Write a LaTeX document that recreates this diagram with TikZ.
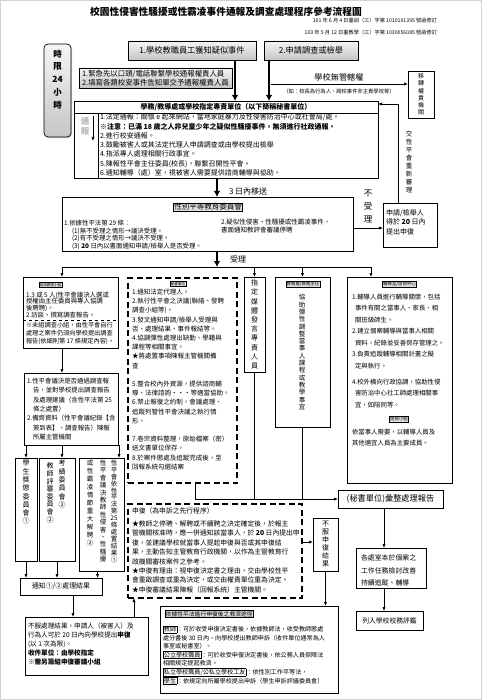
\documentclass[tikz,border=0pt]{standalone}
\usepackage{fontspec}
\setmainfont{Noto Sans CJK TC}
\usetikzlibrary{arrows.meta,shadows,positioning}
\newcommand\fsz[2]{\fontsize{#1}{#2}\selectfont}
\newcommand\kwbox[1]{{\setlength\fboxsep{0.5pt}\setlength\fboxrule{0.4pt}\fbox{#1}}}

\begin{document}
\begin{tikzpicture}[x=1pt,y=-1pt,
  every node/.style={inner sep=0pt,outer sep=0pt},
  cellbox/.style={draw,line width=0.7pt,anchor=north west},
  graybox/.style={cellbox,top color=gray!8,bottom color=gray!45,drop shadow={shadow xshift=1.2pt,shadow yshift=-1.2pt,opacity=0.35}},
  dashbox/.style={cellbox,line width=1.1pt,dash pattern=on 6pt off 3.5pt},
  tag/.style={draw,line width=0.4pt,fill=gray!25,inner sep=0.7pt},
  txt/.style={anchor=west,align=left},
  vert/.style={align=center},
  arr/.style={line width=0.7pt,-{Latex[length=4pt,width=3.2pt]}},
  fat/.style={line width=2.2pt,-{Latex[length=6pt,width=6.5pt]}}]
\useasboundingbox (0,0) rectangle (482,700);
\draw[gray!35] (0.5,0.5) rectangle (481.5,699.5);
% title
\node[font=\fsz{9.7}{10}\bfseries] (title) at (226,12) {校園性侵害性騷擾或性霸凌事件通報及調查處理程序參考流程圖};
\node[anchor=east,font=\fsz{5.2}{6}] (rev1) at (437,21) {101 年 6 月 4 日臺訓（三）字第 1010101395 號函修訂};
\node[anchor=east,font=\fsz{5.2}{6}] (rev2) at (437,33) {103 年 5 月 12 日臺教學（三）字第 1030056085 號函修訂};
% top row
\node[graybox,rounded corners=4pt,minimum width=27,minimum height=93] (limit) at (44,44) {};
\node[vert,font=\fsz{8.5}{12.8}\bfseries] (limittxt) at (57.5,79.5) {時\\限\\24\\小\\時};
\node[graybox,minimum width=128,minimum height=19,font=\fsz{8.2}{9}] (report) at (128,41) {1.學校教職員工獲知疑似事件};
\node[graybox,minimum width=94,minimum height=19,font=\fsz{8.2}{9}] (apply) at (264,41) {2.申請調查或檢舉};
\node[graybox,minimum width=153,minimum height=20,font=\fsz{7.4}{8.6},align=left] (urgent) at (79,68) {1.緊急先以口頭/電話聯繫學校通報權責人員\\2.填寫各類校安事件告知單交予通報權責人員};
\node[cellbox,vert,minimum width=26,minimum height=47,font=\fsz{6}{7.2}] (transfer) at (408,71) {移\\轉\\權\\責\\機\\關};
\node[font=\fsz{8.2}{9}] (nojur) at (339,77) {學校無管轄權};
\node[font=\fsz{5.3}{6}] (nojurnote) at (339,91) {（如：校長為行為人、跨校事件非主責學校等）};
% secretariat
\node[cellbox,minimum width=304,minimum height=77] (sec) at (74,101) {};
\node[font=\fsz{7}{8}\bfseries] (sechead) at (226,107) {學務/教導處或學校指定專責單位（以下簡稱秘書單位）};
\node[vert,font=\fsz{8.5}{10}\bfseries,text=gray!55] (notifytxt) at (85,126) {通\\報};
\node[txt,font=\fsz{7}{9.3}] (secsteps) at (100,145) {1.法定通報：關懷 e 起來網站，當地家庭暴力及性侵害防治中心或社會局/處。\\\textbf{※注意：已滿 18 歲之人非兒童少年之疑似性騷擾事件，無須進行社政通報。}\\2.進行校安通報。\\3.鼓勵被害人或其法定代理人申請調查或由學校提出檢舉\\4.指派專人處理相關行政事宜。\\5.陳報性平會主任委員(校長)，聯繫召開性平會。\\6.通知輔導（處）室，視被害人需要提供諮商輔導與協助。};
\node[vert,font=\fsz{6.5}{8.1}] (rehear) at (409,162) {交\\性\\平\\會\\重\\新\\審\\理};
\node[anchor=west,font=\fsz{8}{9}] (within3) at (229,191) {3 日內移送};
% committee
\node[cellbox,minimum width=291,minimum height=54] (committee) at (62,197) {};
\node[tag,font=\fsz{7.5}{8}] (committeetag) at (208,207) {性別平等教育委員會};
\node[txt,font=\fsz{6.4}{7.6}] (acceptrule) at (64,235) {1.依據性平法第 29 條：\\\hspace*{8pt}(1)無不受理之情形→議決受理。\\\hspace*{8pt}(2)有不受理之情形→議決不受理。\\\hspace*{8pt}(3) \textbf{20} 日內以書面通知申請/檢舉人是否受理。};
\node[txt,font=\fsz{6.5}{8}] (suspend) at (221,226) {2.疑似性侵害、性騷擾或性霸凌事件，\\書面通知教評會審議停聘};
\node[vert,font=\fsz{8.5}{13}] (notaccept) at (368,206) {不\\受\\理};
\node[cellbox,minimum width=54,minimum height=44] (appeal) at (383,203) {};
\node[txt,font=\fsz{7}{9.5}] (appealtxt) at (386,222) {申請/檢舉人\\得於 \textbf{20} 日內\\提出申復};
\node[font=\fsz{8}{9}] (accepted) at (238,259) {受理};
% investigation
\node[cellbox,minimum width=95,minimum height=71] (team) at (23,277) {};
\node[tag,font=\fsz{3.6}{4}] (teamtag) at (50.5,285) {組成調查小組};
\node[txt,font=\fsz{6.4}{6.9}] (teamtxt) at (26,305) {1.3 或 5 人(性平會議決人選或\\授權由主任委員與專人協調\\後聘聘)。\\2.訪談、撰寫調查報告。};
\node[txt,font=\fsz{6.2}{7.7}] (teamnote) at (26,333.5) {※未組調查小組，由性平會自行\\處理之案件仍須向學校提出調查\\報告(依細則第 17 條規定內容)。};
\node[cellbox,minimum width=94,minimum height=72] (decide) at (24,373) {};
\node[txt,font=\fsz{6.4}{9.3}] (decidetxt) at (27,409) {1.性平會議決是否通過調查報\\\hspace*{6pt}告，並對學校提出調查報告\\\hspace*{6pt}及處理建議（含性平法第 25\\\hspace*{6pt}條之處置）\\2.備齊資料（性平會議紀錄【含\\\hspace*{6pt}簽到表】、調查報告）陳報\\\hspace*{6pt}所屬主管機關};
\node[cellbox,minimum width=22,minimum height=103] (c1) at (15,458) {};
\node[vert,font=\fsz{7}{8.3},anchor=north] (c1txt) at ([yshift=-2pt]c1.north) {學\\生\\獎\\懲\\委\\員\\會\\①};
\node[cellbox,minimum width=36,minimum height=103] (c2) at (39,458) {};
\node[vert,font=\fsz{7}{8.3},anchor=north] (c2right) at ([xshift=5pt,yshift=-2pt]c2.north) {考\\績\\委\\員\\會\\②};
\node[vert,font=\fsz{7}{7.6},anchor=north] (c2left) at ([xshift=-7pt,yshift=-5pt]c2.north) {教\\師\\評\\審\\委\\員\\會\\②};
\node[cellbox,minimum width=45,minimum height=113] (c3) at (79,458) {};
\node[vert,font=\fsz{6.5}{6.9},anchor=north] (c3a) at ([xshift=12.5pt,yshift=-2pt]c3.north) {性\\平\\會\\依\\性\\平\\法\\第\\25\\條\\處\\置\\結\\果\\①};
\node[vert,font=\fsz{6.5}{7.4},anchor=north] (c3b) at ([xshift=1.5pt,yshift=-2pt]c3.north) {性\\平\\會\\議\\決\\教\\師\\性\\侵\\害\\、\\性\\騷\\擾};
\node[vert,font=\fsz{6.5}{8},anchor=north] (c3c) at ([xshift=-11.5pt,yshift=-2pt]c3.north) {或\\性\\霸\\凌\\情\\節\\重\\大\\解\\聘\\②};
\node[cellbox,minimum width=82,minimum height=17,font=\fsz{6.9}{8}] (inform) at (20,578) {通知①/②處理結果};
\node[cellbox,minimum width=123,minimum height=58] (objection) at (25,617) {};
\node[txt,font=\fsz{6.6}{9}] (objtxt) at (28,644) {不服處理結果，申請人（被害人）及\\行為人可於 20 日內向學校提出\textbf{申復}\\(以 1 次為限)。\\\textbf{收件單位：由學校指定}\\\textbf{※需另籌組申復審議小組}};
% secretariat duties
\node[dashbox,minimum width=109,minimum height=205] (duty) at (128,278) {};
\node[tag,font=\fsz{3.6}{4}] (dutytag) at (178,284) {秘書單位};
\node[txt,font=\fsz{6.5}{9.2}] (dutytxt) at (132,379.4) {1.通知法定代理人。\\2.執行性平會之決議(聯絡、發聘\\調查小組等)。\\3.發文通知申請/檢舉人受理與\\否、處理結果、事件報結等。\\4.協調彈性處理出缺勤、學籍與\\課程等相關事宜。\\★將處置事項陳報主管機關備\\查\\[9.2pt]5.整合校內外資源，提供諮商輔\\導、法律諮詢・・・等適當協助。\\6.禁止報復之約制，會議處理、\\追蹤列管性平會決議之執行情\\形。\\[9.2pt]7.卷宗資料整理，原始檔案（密）\\送文書單位保存。\\8.於案件懲處及追蹤完成後，至\\回報系統勾選結案};
\node[cellbox,vert,minimum width=21,minimum height=95,font=\fsz{7}{9.2}] (media) at (244,277) {指\\定\\媒\\體\\發\\言\\專\\責\\人\\員};
\node[cellbox,minimum width=55,minimum height=150] (academic) at (275,277) {};
\node[tag,font=\fsz{4.4}{5}] (academictag) at (303,284) {教務處/教務主任};
\node[vert,font=\fsz{6.5}{7.3}] (academictxt) at (302,352) {協\\助\\彈\\性\\調\\整\\當\\事\\人\\課\\程\\或\\教\\學\\事\\宜};
\node[cellbox,minimum width=105,minimum height=206] (counsel) at (347,277) {};
\node[tag,font=\fsz{4.4}{5}] (counseltag) at (399.5,284) {輔導室/諮商中心};
\node[txt,font=\fsz{6.4}{11.5}] (counseltxt) at (352,351) {1.輔導人員進行輔導關懷，包括\\\hspace*{3pt}事件有關之當事人、家長、相\\\hspace*{3pt}關班級師生。\\2.建立個案輔導與當事人相關\\\hspace*{3pt}資料，紀錄並妥善保存管理之。\\3.負責追蹤輔導相關計畫之擬\\\hspace*{3pt}定與執行。\\[4.5pt]4.校外橫向行政協調，協助性侵\\\hspace*{3pt}害防治中心社工師處理相關事\\\hspace*{3pt}宜，如陪同等。};
\node[tag,font=\fsz{4.4}{5}] (consulttag) at (399,419) {諮商小組};
\node[txt,font=\fsz{6.4}{11}] (consulttxt) at (352,437.5) {依當事人需要，以輔導人員及\\其他適宜人員為主要成員。};
\node[cellbox,minimum width=105,minimum height=18,font=\fsz{8.2}{9}] (summary) at (338,490) {(秘書單位)彙整處理報告};
\node[cellbox,minimum width=70,minimum height=40] (follow) at (356,548) {};
\node[txt,font=\fsz{6.9}{12.5}] (followtxt) at (361,570.5) {各處室本於個案之\\工作任務檢討改善\\持續追蹤、輔導};
\node[cellbox,minimum width=67,minimum height=19,font=\fsz{6.8}{8}] (evaluate) at (356,611) {列入學校校務評鑑};
% review
\node[dashbox,minimum width=174,minimum height=94] (review) at (128,504) {};
\node[txt,font=\fsz{6.8}{9.4}] (reviewtxt) at (132,550.4) {申復（為申訴之先行程序）\\[3.5pt]★教師之停聘、解聘或不續聘之決定確定後，於報主\\管機關核准時，應一併通知該當事人，於 \textbf{20} 日內提出申\\復，並建議學校就當事人提起申復與否或其申復結\\果，主動告知主管教育行政機關，以作為主管教育行\\政機關審核案件之參考。\\★申復有理由：視申復決定書之理由，交由學校性平\\會重啟調查或重為決定，或交由權責單位重為決定。\\★申復審議結果陳報（回報系統）主管機關。};
\node[cellbox,vert,minimum width=25,minimum height=53,font=\fsz{7}{8}] (reject) at (313,518) {不\\服\\申\\復\\結\\果};
\node[cellbox,minimum width=178,minimum height=87] (remedy) at (160,606) {};
\node[tag,font=\fsz{5.8}{6.5},anchor=west] (remedytag) at (165,614) {依據性平法進行申復後之救濟途徑};
\node[txt,font=\fsz{6.1}{8.6}] (remedytxt) at (163,655) {\kwbox{教師}：可於收受申復決定書後，依據教師法，收受教師懲處\\處分書後 30 日內，向學校提出教師申訴（收件單位通常為人\\事室或秘書室）。\\\kwbox{公立學校職員}：可於收受申復決定書後，依公務人員保障法\\相關規定提起救濟。\\\kwbox{私立學校職員/公私立學校工友}：依性別工作平等法，\\\kwbox{學生}：依規定向所屬學校提出申訴（學生申訴評議委員會）};
% connectors
\coordinate (fork) at (271,84);
\coordinate (spine) at (217,0);
\coordinate (busL) at (62,267);
\coordinate (busR) at (371,267);
\coordinate (ntop) at (93,116);
\coordinate (nbot) at (93,141);
\draw[line width=0.7pt] ([yshift=-12pt]sec.north west) -- ([yshift=-12pt]sec.north east);
\draw[line width=0.7pt] ([xshift=24pt,yshift=-12pt]sec.north west) -- ([xshift=24pt]sec.south west);
\draw[arr] (ntop) -- (nbot);
\draw[fat] ([xshift=-21pt]report.south east) -- ([xshift=-21pt]report.south east |- sec.north);
\draw[fat] ([xshift=5pt]apply.south west) -- ([xshift=5pt]apply.south west |- sec.north);
\draw[arr] (fork) -- (fork -| transfer.west);
\draw[arr] ([xshift=15pt]appeal.north west) |- ([yshift=-3pt]sec.north east);
\draw[fat] (sec.south -| spine) -- (committee.north -| spine);
\draw[arr] ([yshift=-4pt]committee.east) -- ([yshift=-4pt]committee.east -| appeal.west);
\draw[fat] (committee.south -| spine) -- (busL -| spine);
\draw[line width=0.7pt] (busL) -- (busR);
\draw[arr] (busL) -- (busL |- team.north);
\draw[arr] (media.north |- busL) -- (media.north);
\draw[arr] (academic.north |- busL) -- (academic.north);
\draw[arr] (busR) -- (busR |- counsel.north);
\draw[line width=0.6pt,dashed] ([yshift=-43pt]team.north west) -- ([yshift=-43pt]team.north east);
\draw[arr] (team.south -| busL) -- (decide.north -| busL);
\draw[arr] (c1.north |- decide.south) -- (c1.north);
\draw[arr] (decide.south -| busL) -- (c2.north -| busL);
\draw[arr] ([xshift=1pt]decide.south east) -- ([xshift=1pt]decide.south east |- c3.north);
\draw[arr] (c1.south) -- (c1.south |- inform.north);
\draw[arr] (c2.south) -- (c2.south |- inform.north);
\draw[arr] ([xshift=-4pt]c3.south) -- ([xshift=-4pt]c3.south |- inform.north);
\draw[arr] ([xshift=12pt]inform.south) -- ([xshift=12pt]inform.south |- objection.north);
\draw[arr] ([xshift=-14pt]objection.north east) -- ([xshift=-14pt]objection.north east |- review.south);
\draw[arr] ([yshift=9pt]review.east) -- ([yshift=9pt]review.east -| reject.west);
\draw[arr] (reject.south) -- (reject.south |- remedy.north);
\draw[line width=0.7pt] (media.south) -- (media.south |- summary.west);
\draw[line width=0.7pt] (academic.south) -- (academic.south |- summary.west);
\draw[arr] ([xshift=12.5pt]duty.south) |- (summary.west);
\draw[arr] ([xshift=-6.5pt]summary.south) -- ([xshift=-6.5pt]summary.south |- follow.north);
\draw[arr] ([xshift=-7pt]follow.south) -- ([xshift=-7pt]follow.south |- evaluate.north);
\end{tikzpicture}
\end{document}
